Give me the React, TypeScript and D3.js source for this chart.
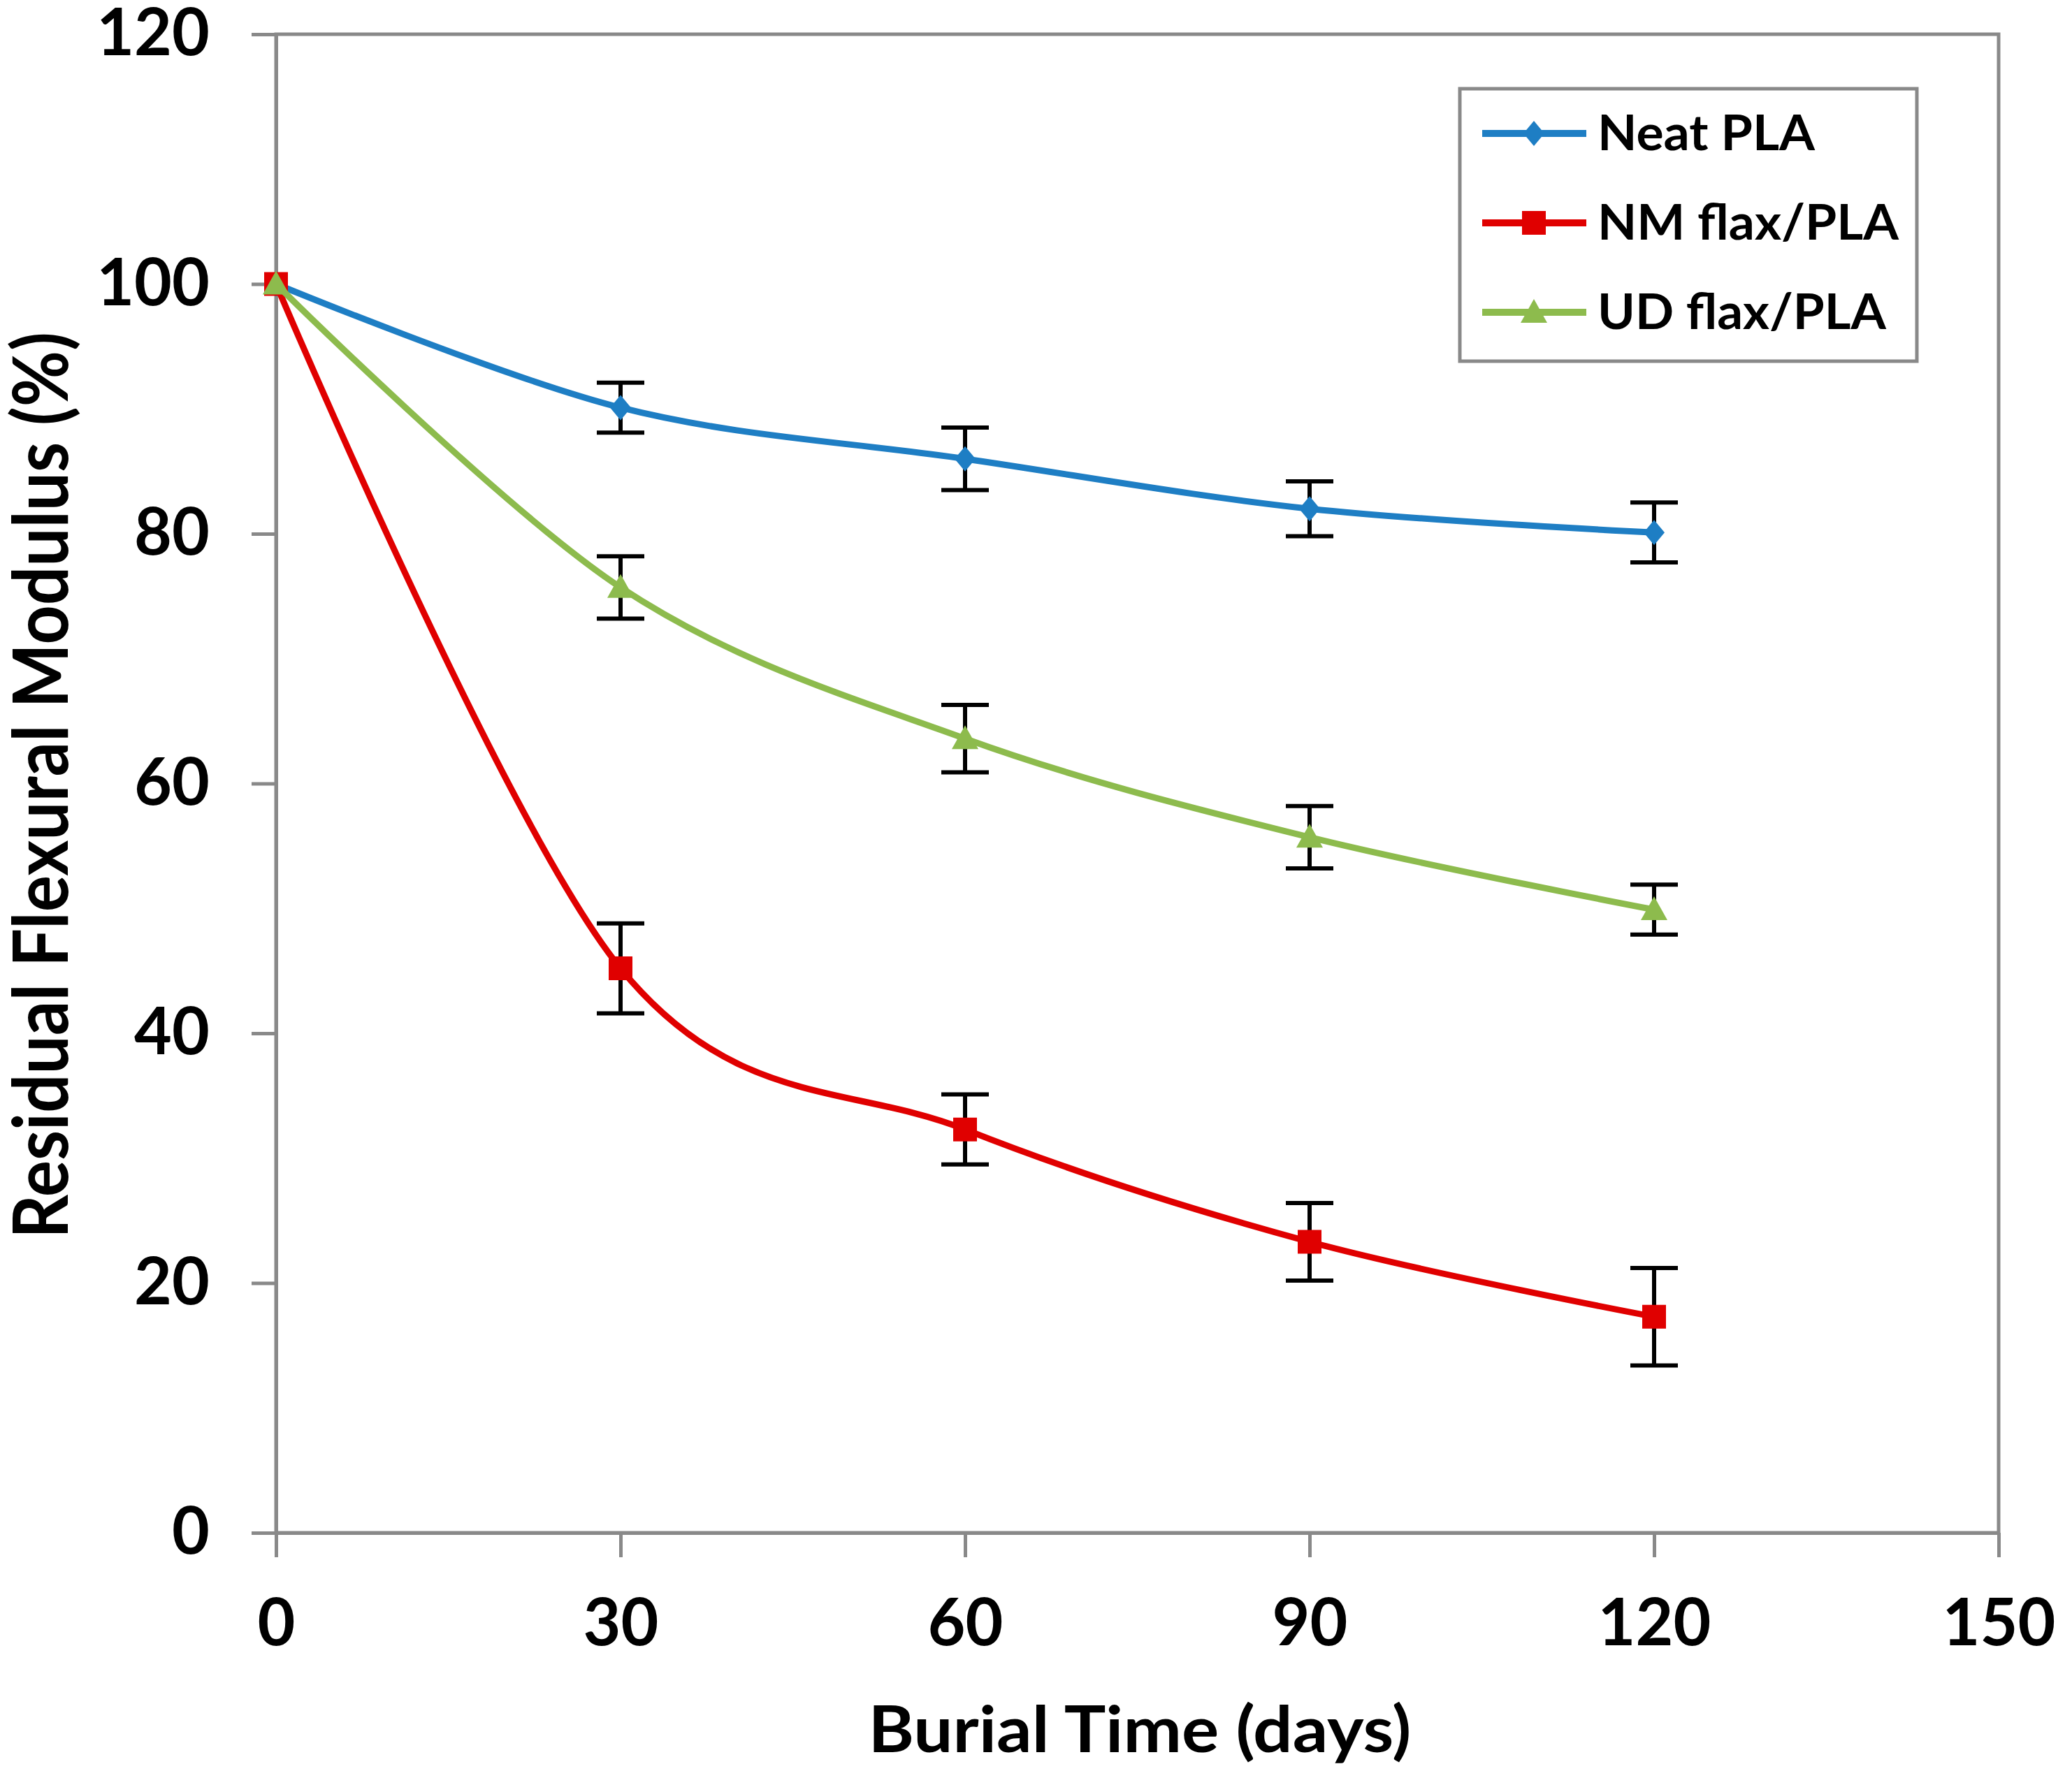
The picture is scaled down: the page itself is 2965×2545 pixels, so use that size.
import React, { useRef, useEffect } from 'react';
import * as d3 from 'd3';

const days = [0, 30, 60, 90, 120];

const seriesNames = ['Neat PLA', 'NM flax/PLA', 'UD flax/PLA'];
const neatPla = [100, 90.1, 86.0, 82.0, 80.1];
const neatPlaErr = [0, 2.0, 2.5, 2.2, 2.4];
const nmFlax = [100, 45.2, 32.3, 23.3, 17.3];
const nmFlaxErr = [0, 3.6, 2.8, 3.1, 3.9];
const udFlax = [100, 75.7, 63.6, 55.7, 49.9];
const udFlaxErr = [0, 2.5, 2.7, 2.5, 2.0];

const xTicks = [0, 30, 60, 90, 120, 150];
const yTicks = [0, 20, 40, 60, 80, 100, 120];

const colors = ['#1e7ec4', '#e00000', '#8dbb4d'];
const markers = ['diamond', 'square', 'triangle'];
const legendWidths = [311, 431, 413];

const markerPath = (kind: string) => {
    if (kind === 'diamond') return 'M0,-18L15,0L0,18L-15,0Z';
    if (kind === 'square') return 'M-17,-17H17V17H-17Z';
    return 'M0,-19L19,15H-19Z';
};

const App: React.FC = () => {
    const svgRef = useRef<SVGSVGElement | null>(null);

    useEffect(() => {
        const svg = d3.select(svgRef.current);
        svg.selectAll('*').remove();
        const width = 2965;
        const height = 2545;
        const margin = { top: 49, right: 105, bottom: 351, left: 395 };
        const font = 'Lato, "DejaVu Sans", sans-serif';
        const grey = '#898989';

        svg.attr('width', width).attr('height', height).style('background', '#fff');

        const x = d3.scaleLinear().domain([0, 150]).range([margin.left, width - margin.right]);
        const y = d3.scaleLinear().domain([0, 120]).range([height - margin.bottom, margin.top]);

        const series = [
            { name: seriesNames[0], values: neatPla, errs: neatPlaErr },
            { name: seriesNames[1], values: nmFlax, errs: nmFlaxErr },
            { name: seriesNames[2], values: udFlax, errs: udFlaxErr },
        ];

        // plot frame
        svg.append('rect')
            .attr('x', x(0)).attr('y', y(120))
            .attr('width', x(150) - x(0)).attr('height', y(0) - y(120))
            .attr('fill', 'none').attr('stroke', grey).attr('stroke-width', 5);

        const yAxis = svg.append('g')
            .attr('transform', `translate(${x(0)},0)`)
            .call(d3.axisLeft(y).tickValues(yTicks).tickSize(35).tickSizeOuter(0).tickPadding(60));
        const xAxis = svg.append('g')
            .attr('transform', `translate(0,${y(0)})`)
            .call(d3.axisBottom(x).tickValues(xTicks).tickSize(35).tickSizeOuter(0).tickPadding(60));

        [xAxis, yAxis].forEach(ax => {
            ax.select('.domain').attr('stroke', grey).attr('stroke-width', 5);
            ax.selectAll('.tick line').attr('stroke', grey).attr('stroke-width', 5);
            ax.selectAll('.tick text')
                .style('font-family', font)
                .style('font-weight', 'bold')
                .style('font-size', '93px')
                .attr('fill', '#000');
        });

        // error bars
        series.forEach(s => {
            const g = svg.append('g').attr('stroke', '#000').attr('stroke-width', 6);
            days.forEach((d, i) => {
                if (!s.errs[i]) return;
                const cx = x(d);
                const top = y(s.values[i] + s.errs[i]);
                const bot = y(s.values[i] - s.errs[i]);
                g.append('line').attr('x1', cx).attr('x2', cx).attr('y1', top).attr('y2', bot);
                g.append('line').attr('x1', cx - 34).attr('x2', cx + 34).attr('y1', top).attr('y2', top);
                g.append('line').attr('x1', cx - 34).attr('x2', cx + 34).attr('y1', bot).attr('y2', bot);
            });
        });

        const line = d3.line<number>()
            .x((_, i) => x(days[i]))
            .y(v => y(v))
            .curve(d3.curveCardinal.tension(0));

        series.forEach((s, k) => {
            svg.append('path')
                .datum(s.values)
                .attr('d', line)
                .attr('fill', 'none')
                .attr('stroke', colors[k])
                .attr('stroke-width', 9);
            svg.append('g')
                .selectAll('path')
                .data(s.values)
                .enter()
                .append('path')
                .attr('d', markerPath(markers[k]))
                .attr('transform', (v, i) => `translate(${x(days[i])},${y(v)})`)
                .attr('fill', colors[k]);
        });

        // axis titles
        svg.append('text')
            .attr('x', 1631)
            .attr('y', 2508)
            .attr('text-anchor', 'middle')
            .attr('textLength', 777)
            .attr('lengthAdjust', 'spacingAndGlyphs')
            .style('font-family', font)
            .style('font-weight', 'bold')
            .style('font-size', '92px')
            .text('Burial Time (days)');

        svg.append('text')
            .attr('transform', 'translate(97,1124) rotate(-90)')
            .attr('text-anchor', 'middle')
            .attr('textLength', 1298)
            .attr('lengthAdjust', 'spacingAndGlyphs')
            .style('font-family', font)
            .style('font-weight', 'bold')
            .style('font-size', '110px')
            .text('Residual Flexural Modulus (%)');

        // legend
        const legend = svg.append('g').attr('transform', 'translate(2089,127)');
        legend.append('rect')
            .attr('width', 654).attr('height', 390)
            .attr('fill', '#fff').attr('stroke', grey).attr('stroke-width', 5);

        seriesNames.forEach((name, k) => {
            const ry = 64 + k * 128;
            legend.append('line')
                .attr('x1', 32).attr('x2', 181).attr('y1', ry).attr('y2', ry)
                .attr('stroke', colors[k]).attr('stroke-width', 10);
            legend.append('path')
                .attr('d', markerPath(markers[k]))
                .attr('transform', `translate(106,${ry})`)
                .attr('fill', colors[k]);
            legend.append('text')
                .attr('x', 197)
                .attr('y', ry + 24)
                .attr('textLength', legendWidths[k])
                .attr('lengthAdjust', 'spacingAndGlyphs')
                .style('font-family', font)
                .style('font-weight', 'bold')
                .style('font-size', '70px')
                .text(name);
        });
    }, []);

    return <svg ref={svgRef} style={{ position: 'absolute', left: 0, top: 0 }}></svg>;
};

export default App;
